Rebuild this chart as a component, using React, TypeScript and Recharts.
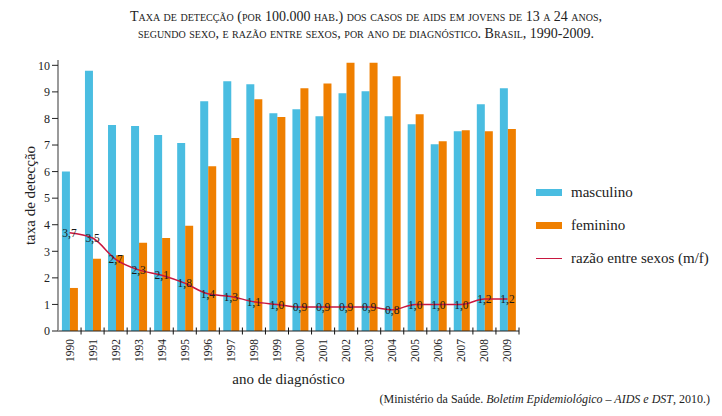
import { Bar, ComposedChart, LabelList, Legend, Line, XAxis, YAxis } from 'recharts'

const SERIF = '"Liberation Serif", "DejaVu Serif", serif'

const years = [
  '1990', '1991', '1992', '1993', '1994', '1995', '1996', '1997', '1998', '1999',
  '2000', '2001', '2002', '2003', '2004', '2005', '2006', '2007', '2008', '2009',
]
const masculino = [6.0, 9.8, 7.75, 7.72, 7.38, 7.08, 8.65, 9.4, 9.29, 8.2, 8.35, 8.08, 8.95, 9.02, 8.08, 7.78, 7.03, 7.52, 8.53, 9.14]
const feminino = [1.62, 2.72, 2.85, 3.32, 3.5, 3.96, 6.2, 7.26, 8.72, 8.05, 9.14, 9.32, 10.1, 10.1, 9.59, 8.16, 7.14, 7.56, 7.52, 7.6]
const razao = [3.7, 3.5, 2.7, 2.3, 2.1, 1.8, 1.4, 1.3, 1.1, 1.0, 0.9, 0.9, 0.9, 0.9, 0.8, 1.0, 1.0, 1.0, 1.2, 1.2]
const yTicks = [0, 1, 2, 3, 4, 5, 6, 7, 8, 9, 10]
const seriesNames = ['masculino', 'feminino', 'razão entre sexos (m/f)']

const data = years.map((ano, i) => ({
  ano,
  masculino: masculino[i],
  feminino: feminino[i],
  razao: razao[i],
}))

// year label rotated, plus the "+" tick sitting on the boundary between categories
function YearTick(props: any) {
  const { x, y, payload, width, visibleTicksCount } = props
  const band = width && visibleTicksCount ? width / visibleTicksCount : 23.05
  const axisY = y - 8
  const bx = x + band / 2
  return (
    <g>
      <line x1={bx} x2={bx} y1={axisY - 3.5} y2={axisY + 3.5} stroke="#111" strokeWidth={1} />
      <text
        x={x}
        y={y}
        transform={`rotate(-90, ${x}, ${y})`}
        textAnchor="end"
        dy="0.35em"
        fontSize={11.5}
        fontFamily={SERIF}
        fill="#222"
      >
        {payload.value}
      </text>
    </g>
  )
}

const renderLegend = (props: any) => {
  const items = [...props.payload].sort(
    (a: any, b: any) => seriesNames.indexOf(a.value) - seriesNames.indexOf(b.value),
  )
  return (
    <div style={{ fontFamily: SERIF, fontSize: 15, color: '#222' }}>
      {items.map((entry: any) => (
        <div key={entry.value} style={{ display: 'flex', alignItems: 'center', height: 33 }}>
          <span
            style={{
              display: 'inline-block',
              width: 26,
              height: entry.type === 'line' ? 1.5 : 7,
              background: entry.color,
            }}
          />
          <span style={{ marginLeft: 9, fontFamily: SERIF }}>{entry.value}</span>
        </div>
      ))}
    </div>
  )
}

export default function App() {
  return (
    <div style={{ position: 'relative', width: 722, height: 416, fontFamily: SERIF, background: '#fff' }}>
      <style>{'body{margin:0}'}</style>
      <div
        style={{
          position: 'absolute',
          left: 16,
          width: 700,
          top: 8,
          textAlign: 'center',
          fontSize: 14,
          lineHeight: '17px',
          fontVariant: 'small-caps',
          fontFamily: SERIF,
          color: '#222',
        }}
      >
        <div>Taxa de detecção (por 100.000 hab.) dos casos de aids em jovens de 13 a 24 anos,</div>
        <div>segundo sexo, e razão entre sexos, por ano de diagnóstico. Brasil, 1990-2009.</div>
      </div>

      <div style={{ position: 'absolute', left: 0, top: 0 }}>
        <ComposedChart
          width={722}
          height={416}
          data={data}
          margin={{ top: 60, right: 203, left: 18, bottom: 45 }}
          barCategoryGap="17%"
          barGap={0}
          style={{ fontFamily: SERIF }}
        >
          <XAxis
            dataKey="ano"
            height={40}
            interval={0}
            tickSize={6}
            tickMargin={2}
            tickLine={false}
            axisLine={{ stroke: '#222' }}
            tick={<YearTick />}
            label={{
              value: 'ano de diagnóstico',
              position: 'bottom',
              offset: 2,
              fontSize: 15,
              fill: '#222',
              fontFamily: SERIF,
            }}
          />
          <YAxis
            width={40}
            domain={[0, 10.2]}
            ticks={yTicks}
            interval={0}
            tickSize={6}
            tickMargin={2}
            axisLine={{ stroke: '#9a9a9a', strokeWidth: 2 }}
            tickLine={{ stroke: '#222' }}
            tick={{ fontSize: 12, fill: '#222', fontFamily: SERIF }}
            label={{
              value: 'taxa de detecção',
              angle: -90,
              position: 'insideLeft',
              offset: 12,
              fontSize: 15,
              fill: '#222',
              fontFamily: SERIF,
              style: { textAnchor: 'middle', fontFamily: SERIF },
            }}
          />
          <Legend
            layout="vertical"
            align="center"
            verticalAlign="middle"
            wrapperStyle={{ left: 536, top: 176, width: 190 }}
            content={renderLegend}
          />
          <Bar dataKey="masculino" name="masculino" fill="#4abde1" isAnimationActive={false} />
          <Bar dataKey="feminino" name="feminino" fill="#ef7f00" isAnimationActive={false} />
          <Line
            type="monotone"
            dataKey="razao"
            name="razão entre sexos (m/f)"
            stroke="#c8173f"
            strokeWidth={1.5}
            dot={false}
            isAnimationActive={false}
          >
            <LabelList
              dataKey="razao"
              position="center"
              fontSize={11.5}
              fontFamily={SERIF}
              fill="#1a1a1a"
              formatter={(v: any) => Number(v).toFixed(1).replace('.', ',')}
            />
          </Line>
        </ComposedChart>
      </div>

      <div
        style={{
          position: 'absolute',
          right: 12,
          top: 392,
          fontSize: 12,
          color: '#222',
          whiteSpace: 'nowrap',
          fontFamily: SERIF,
        }}
      >
        (Ministério da Saúde. <i>Boletim Epidemiológico – AIDS e DST</i>, 2010.)
      </div>
    </div>
  )
}
